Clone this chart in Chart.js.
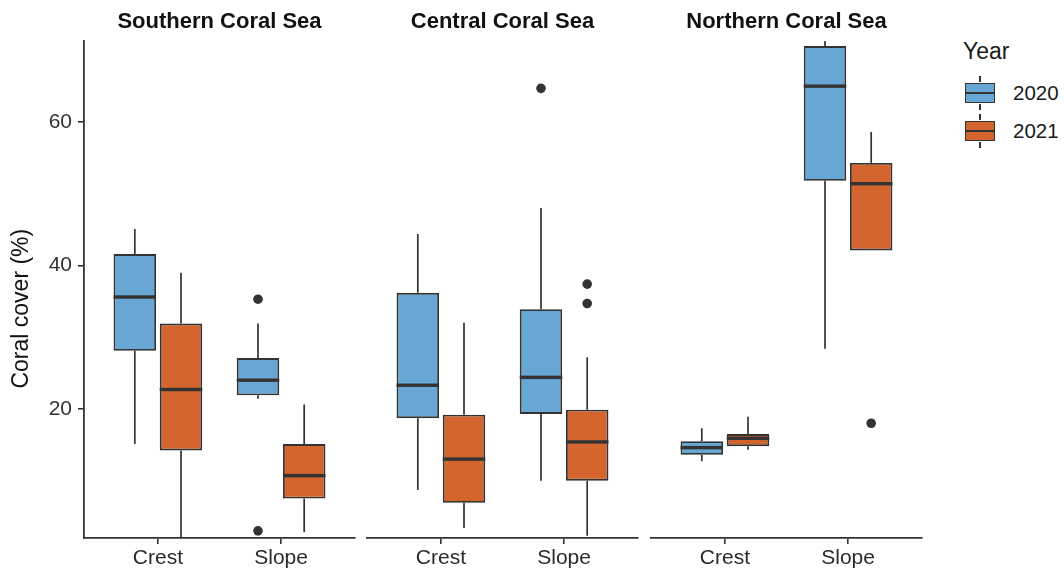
<!DOCTYPE html>
<html>
<head>
<meta charset="utf-8">
<script src="https://cdn.jsdelivr.net/npm/chart.js@4.4.1/dist/chart.umd.min.js"></script>
<style>
  body { margin: 0; background: #fff; font-family: "Liberation Sans", Arial, sans-serif; }
  #wrap { position: relative; width: 1064px; height: 569px; }
  .panel { position: absolute; top: 0; height: 569px; }
  #legend { position: absolute; left: 963px; top: 36px; color: #1a1a1a; }
  #legend .title { font-size: 23px; line-height: 30px; margin-bottom: 10px; }
  .item { position: relative; height: 38px; }
  .key { position: absolute; left: 2px; top: 7px; width: 30px; height: 20px; border: 1.6px solid #333; box-sizing: border-box; }
  .key .mid { position: absolute; left: 0; right: 0; top: 7.5px; height: 2.4px; background: #333; }
  .key:before, .key:after { content: ""; position: absolute; left: 13.2px; width: 1.6px; height: 6px; background: #333; }
  .key:before { top: -7.6px; }
  .key:after { bottom: -7.6px; }
  .item span { position: absolute; left: 50px; top: 5px; font-size: 20.5px; line-height: 24px; }
</style>
</head>
<body>
<div id="wrap">
  <div class="panel" style="left:0;width:360px"><canvas id="south"></canvas></div>
  <div class="panel" style="left:362px;width:281px"><canvas id="central"></canvas></div>
  <div class="panel" style="left:646px;width:281px"><canvas id="north"></canvas></div>
  <div id="legend">
    <div class="title">Year</div>
    <div class="item"><div class="key" style="background:#68A7D3"><div class="mid"></div></div><span>2020</span></div>
    <div class="item"><div class="key" style="background:#D4652E"><div class="mid"></div></div><span>2021</span></div>
  </div>
</div>
<script>
const regions = ['Southern Coral Sea', 'Central Coral Sea', 'Northern Coral Sea'];
const habitats = ['Crest', 'Slope'];
const years = ['2020', '2021'];
const yearColors = ['#68A7D3', '#D4652E'];
const yTicks = [20, 40, 60];

// each box: [lower whisker, Q1, median, Q3, upper whisker], one per habitat
const south2020 = [[15.1, 28.1, 35.6, 41.6, 45.1], [21.4, 21.9, 24.0, 27.1, 31.9]];
const south2021 = [[2.0, 14.2, 22.7, 31.9, 39.0], [2.8, 7.5, 10.7, 15.1, 20.6]];
const central2020 = [[8.7, 18.7, 23.3, 36.2, 44.4], [10.0, 19.3, 24.4, 33.9, 48.0]];
const central2021 = [[3.4, 6.9, 13.0, 19.2, 32.0], [2.3, 10.0, 15.4, 19.9, 27.2]];
const north2020 = [[12.7, 13.6, 14.6, 15.5, 17.3], [28.4, 51.8, 65.0, 70.6, 71.3]];
const north2021 = [[14.3, 14.8, 15.9, 16.5, 18.9], [42.1, 42.1, 51.4, 54.3, 58.6]];

// outliers per habitat
const southOut2020 = [[], [35.3, 3.0]];
const southOut2021 = [[], []];
const centralOut2020 = [[], [64.7]];
const centralOut2021 = [[], [37.4, 34.7]];
const northOut2020 = [[], []];
const northOut2021 = [[], [18.0]];

const ink = '#333333';
const font = '"Liberation Sans", Arial, sans-serif';

const boxParts = {
  id: 'boxParts',
  beforeDatasetsDraw(chart) {
    const ctx = chart.ctx, y = chart.scales.y, a = chart.chartArea;
    ctx.save();
    ctx.beginPath();
    ctx.rect(a.left, a.top, a.right - a.left, a.bottom - a.top);
    ctx.clip();
    ctx.strokeStyle = ink;
    ctx.lineWidth = 1.7;
    chart.data.datasets.forEach((ds, di) => {
      chart.getDatasetMeta(di).data.forEach((bar, i) => {
        const s = ds.stats[i];
        const x = bar.getProps(['x'], true).x;
        ctx.beginPath();
        ctx.moveTo(x, y.getPixelForValue(s[0]));
        ctx.lineTo(x, y.getPixelForValue(s[1]));
        ctx.moveTo(x, y.getPixelForValue(s[3]));
        ctx.lineTo(x, y.getPixelForValue(s[4]));
        ctx.stroke();
      });
    });
    ctx.restore();
  },
  afterDatasetsDraw(chart) {
    const ctx = chart.ctx, y = chart.scales.y;
    ctx.save();
    chart.data.datasets.forEach((ds, di) => {
      chart.getDatasetMeta(di).data.forEach((bar, i) => {
        const p = bar.getProps(['x', 'width'], true);
        const my = y.getPixelForValue(ds.stats[i][2]);
        ctx.fillStyle = ink;
        ctx.fillRect(p.x - p.width / 2, my - 1.7, p.width, 3.4);
        ds.outliers[i].forEach(v => {
          ctx.beginPath();
          ctx.arc(p.x, y.getPixelForValue(v), 4.8, 0, Math.PI * 2);
          ctx.fill();
        });
      });
    });
    ctx.restore();
  }
};

function makePanel(id, title, box2020, box2021, out2020, out2021, showY, pad) {
  const boxes = [box2020, box2021];
  const outs = [out2020, out2021];
  new Chart(document.getElementById(id), {
    type: 'bar',
    data: {
      datasets: years.map((yr, k) => ({
        label: yr,
        data: habitats.map((h, i) => ({ x: i + 1, y: [boxes[k][i][1], boxes[k][i][3]] })),
        stats: boxes[k],
        outliers: outs[k],
        backgroundColor: yearColors[k],
        borderColor: ink,
        borderWidth: 1.9,
        borderSkipped: false,
        categoryPercentage: 0.75,
        barPercentage: 0.92
      }))
    },
    options: {
      responsive: false,
      animation: false,
      layout: { padding: pad },
      plugins: {
        legend: { display: false },
        tooltip: { enabled: false },
        title: {
          display: true,
          text: title,
          fullSize: false,
          color: '#111',
          font: { family: font, size: 22, weight: 'bold' },
          padding: { top: 9, bottom: 5.6 }
        }
      },
      scales: {
        x: {
          type: 'linear',
          min: 0.4,
          max: 2.6,
          offset: false,
          stacked: false,
          afterBuildTicks: s => { s.ticks = habitats.map((h, i) => ({ value: i + 1 })); },
          afterFit: s => { s.height = 31; },
          grid: { display: true, offset: false, drawOnChartArea: false, drawTicks: true, tickLength: 6, color: ink, lineWidth: 1.6 },
          border: { display: true, color: ink, width: 1.8 },
          ticks: {
            padding: 2,
            color: '#2a2a2a',
            font: { family: font, size: 21 },
            callback: v => habitats[v - 1]
          }
        },
        y: {
          display: showY,
          min: 2,
          max: 71.3,
          stacked: false,
          afterBuildTicks: s => { s.ticks = yTicks.map(v => ({ value: v })); },
          afterFit: s => { s.width = showY ? 84 : 0; },
          grid: { display: true, drawOnChartArea: false, drawTicks: true, tickLength: 6, color: ink, lineWidth: 1.6 },
          border: { display: true, color: ink, width: 1.8 },
          ticks: { padding: 6, color: '#333', font: { family: font, size: 21 } },
          title: {
            display: true,
            text: 'Coral cover (%)' + '      ',
            color: '#111',
            font: { family: font, size: 23 },
            padding: { top: 8, bottom: 0 }
          }
        }
      }
    },
    plugins: [boxParts]
  });
}

function sizeCanvas(id, w) {
  const c = document.getElementById(id);
  c.width = w; c.height = 569;
  c.style.width = w + 'px'; c.style.height = '569px';
}
sizeCanvas('south', 360);
sizeCanvas('central', 281);
sizeCanvas('north', 281);

makePanel('south', regions[0], south2020, south2021, southOut2020, southOut2021, true, { left: 0, right: 5, top: 0, bottom: 0 });
makePanel('central', regions[1], central2020, central2021, centralOut2020, centralOut2021, false, { left: 5, right: 5, top: 0, bottom: 0 });
makePanel('north', regions[2], north2020, north2021, northOut2020, northOut2021, false, { left: 5, right: 5, top: 0, bottom: 0 });
</script>
</body>
</html>
